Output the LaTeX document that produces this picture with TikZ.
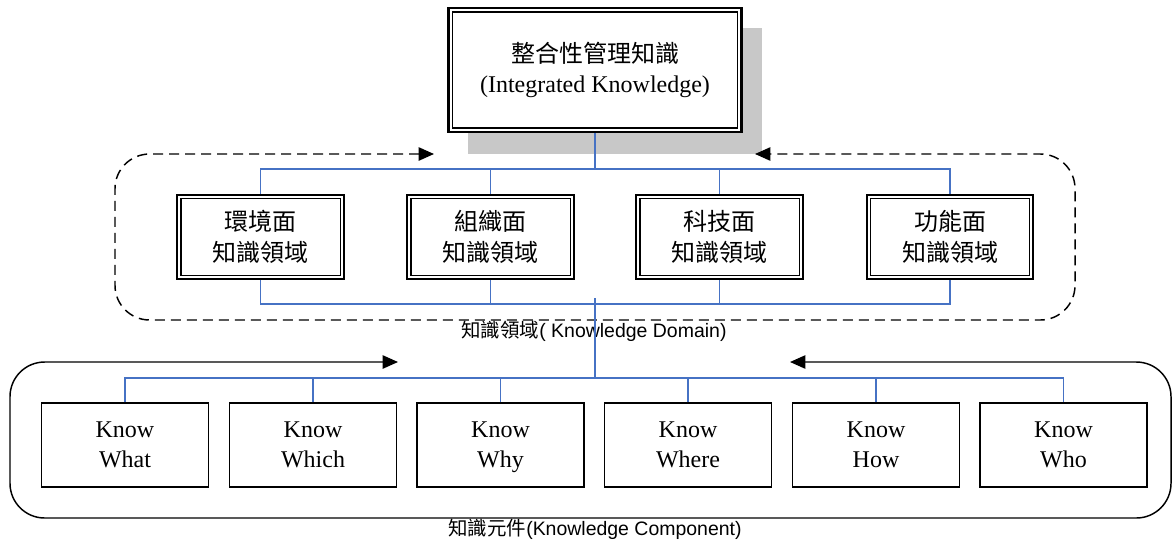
\documentclass[tikz,border=0pt]{standalone}
\usepackage{fontspec}
\setmainfont{Liberation Serif}
\newfontfamily\cjk{Noto Sans CJK TC}
\newfontfamily\arialfont{Liberation Sans}
\usetikzlibrary{arrows.meta}
\definecolor{busblue}{RGB}{70,114,196}
\definecolor{shadowgray}{RGB}{200,200,200}

\begin{document}
\begin{tikzpicture}[x=0.75pt,y=-0.75pt,
  >={Triangle[length=11.5pt,width=10pt]},
  bus/.style={busblue,line width=1.2pt},
  trunk/.style={busblue,line width=1.6pt},
  topbox/.style={draw,fill=white,line width=1.7pt,align=center,inner sep=0pt,
    minimum width=219.75pt,minimum height=93pt,font=\fontsize{18}{22.5}\selectfont,
    path picture={\draw[line width=0.8pt] ([shift={(3pt,-3pt)}]path picture bounding box.north west)
      rectangle ([shift={(-3pt,3pt)}]path picture bounding box.south east);}},
  dombox/.style={draw,fill=white,line width=1.3pt,align=center,inner sep=0pt,
    minimum width=125pt,minimum height=63pt,font=\cjk\fontsize{18}{23.25}\selectfont,
    path picture={\draw[line width=0.9pt] ([shift={(2.8pt,-2.8pt)}]path picture bounding box.north west)
      rectangle ([shift={(-2.8pt,2.8pt)}]path picture bounding box.south east);}},
  compbox/.style={draw,fill=white,line width=1.1pt,align=center,inner sep=0pt,text depth=0pt,
    minimum width=125pt,minimum height=63pt,font=\fontsize{18}{22.5}\selectfont},
  framelabel/.style={inner sep=0pt,font=\fontsize{14.6}{17}\selectfont}]
\useasboundingbox (0,0) rectangle (1173,540);

\fill[shadowgray] (468,28) rectangle (762,154);
\node[topbox] (intk) at (595,70) {{\cjk 整合性管理知識}\\(Integrated Knowledge)};

\draw[<->,dashed,dash pattern=on 7.5pt off 4.5pt,line width=1.1pt,rounded corners=26pt]
  (434,154) -- (115,154) -- (115,320) -- (1075,320) -- (1075,154) -- (755,154);
\draw[<->,line width=1.1pt,rounded corners=26pt]
  (398,362) -- (10,362) -- (10,518) -- (1171,518) -- (1171,362) -- (790,362);

\node[dombox] (env) at (260.5,237) {環境面\\知識領域};
\node[dombox] (org) at (490.5,237) {組織面\\知識領域};
\node[dombox] (tech) at (719.5,237) {科技面\\知識領域};
\node[dombox] (func) at (950,237) {功能面\\知識領域};

\node[compbox] (what) at (125,445) {Know\\What};
\node[compbox] (which) at (313,445) {Know\\Which};
\node[compbox] (why) at (500.5,445) {Know\\Why};
\node[compbox] (where) at (688,445) {Know\\Where};
\node[compbox] (how) at (876,445) {Know\\How};
\node[compbox] (who) at (1063.5,445) {Know\\Who};

\node[framelabel] (domlabel) at (594,331) {{\cjk 知識領域}{\arialfont( Knowledge Domain)}};
\node[framelabel] (complabel) at (595,529) {{\cjk 知識元件}{\arialfont(Knowledge Component)}};

\coordinate (upbus) at (595,169);
\coordinate (midbus) at (595,304);
\coordinate (lowbus) at (595,378);

\draw[trunk] (intk.south) -- (upbus);
\foreach \d in {env,org,tech,func}
  \draw[bus] (\d.north) |- (upbus);
\foreach \d in {env,org,tech,func}
  \draw[bus] (\d.south) |- (midbus);
\draw[trunk] ([yshift=4.5pt]midbus) -- (lowbus);
\foreach \c in {what,which,why,where,how,who}
  \draw[bus] (\c.north) |- (lowbus);
\end{tikzpicture}
\end{document}
